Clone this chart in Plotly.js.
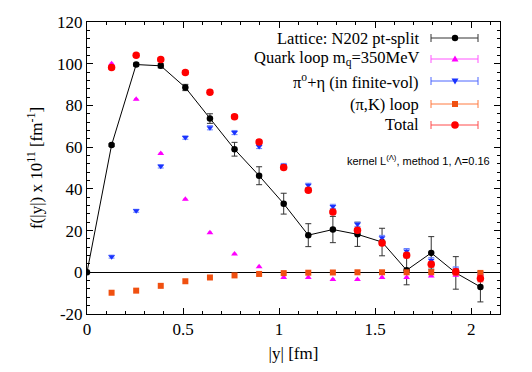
<!DOCTYPE html>
<html>
<head>
<meta charset="utf-8">
<script src="https://cdn.plot.ly/plotly-3.0.1.min.js"></script>
<style>
  html, body { margin: 0; padding: 0; background: #fff; }
  #plot { width: 532px; height: 372px; }
</style>
</head>
<body>
<div id="plot"></div>
<script>
// |y| in fm, steps of 2a for N202
const yAbs = [0, 0.128, 0.256, 0.384, 0.512, 0.64, 0.768, 0.896, 1.024, 1.152, 1.28, 1.408, 1.536, 1.664, 1.792, 1.92, 2.048];

const lattice = [0, 61, 99.6, 99, 88.6, 73.7, 59, 46.3, 32.9, 17.8, 20.5, 18.2, 14.5, 1, 9.3, -0.3, -7];
const latticeErr = [0, 0.6, 0.7, 1, 1.5, 2.3, 3.3, 4.3, 5, 5.5, 6.3, 5.8, 6.6, 7, 7.8, 7.8, 7.2];

const quarkX = yAbs.slice(1);
const quark = [100, 83, 57, 35, 19, 8.8, 2.6, -2.5, -2.5, -3.4, -3.4, -2.5, -2.5, -1.8, -1.4, -1];

const pionX = yAbs.slice(1);
const pionEta = [7.5, 29.5, 50.8, 64.6, 69.3, 67, 60.3, 51.2, 41.7, 31.6, 23, 16.5, 10.2, 5.8, 1.4, -1.4];
const pionEtaErr = [0.7, 0.7, 0.8, 0.8, 1, 1, 1, 1, 1, 1, 1, 1.2, 1.2, 1.2, 1.2, 1.2];

const kaonX = yAbs.slice(1);
const piK = [-9.8, -8.8, -6.5, -4.3, -2.5, -1.5, -0.8, -0.4, -0.2, -0.1, 0, 0, 0, 0, 0, -0.3];

const totalX = yAbs.slice(1);
const total = [98.2, 104, 102, 95.8, 86.3, 74.6, 62.5, 50.2, 39.3, 28.9, 20.1, 14, 8.2, 3.8, 0.2, -3];
const totalErr = [0.8, 0.8, 0.8, 0.9, 1, 1, 1, 1, 1, 1, 1.1, 1.2, 1.3, 1.4, 1.5, 1.6];

const legendNames = [
  "Lattice: N202 pt-split",
  "Quark loop m<sub>q</sub>=350MeV",
  "π<sup>o</sup>+η (in finite-vol)",
  "(π,K) loop",
  "Total"
];

const W = 532, H = 372;
const M = { l: 87, r: 32, t: 22, b: 58 };
const PW = W - M.l - M.r, PH = H - M.t - M.b;
const px = x => (x - M.l) / PW;
const py = y => 1 - (y - M.t) / PH;

const serif = "Liberation Serif";

const traces = [
  {
    x: yAbs, y: lattice, type: "scatter", mode: "lines+markers",
    line: { color: "#000", width: 1 },
    marker: { color: "#000", size: 6.5, symbol: "circle" },
    error_y: { type: "data", array: latticeErr, visible: true, color: "#333", thickness: 1, width: 3 }
  },
  {
    x: quarkX, y: quark, type: "scatter", mode: "markers",
    marker: { color: "#ff00ff", size: 6, symbol: "triangle-up" },
    error_y: { type: "constant", value: 0.3, visible: true, color: "#ff66ff", thickness: 1, width: 2 }
  },
  {
    x: pionX, y: pionEta, type: "scatter", mode: "markers",
    marker: { color: "#1a33ff", size: 6, symbol: "triangle-down" },
    error_y: { type: "data", array: pionEtaErr, visible: true, color: "#6680ff", thickness: 1, width: 3 }
  },
  {
    x: kaonX, y: piK, type: "scatter", mode: "markers",
    marker: { color: "#f05010", size: 6, symbol: "square" },
    error_y: { type: "constant", value: 0.3, visible: true, color: "#ff8050", thickness: 1, width: 2 }
  },
  {
    x: totalX, y: total, type: "scatter", mode: "markers",
    marker: { color: "#ff0000", size: 7.5, symbol: "circle" },
    error_y: { type: "data", array: totalErr, visible: true, color: "#ff5050", thickness: 1, width: 3 }
  }
];

// hand-made legend: text right-aligned, sample on the right
const rowsY = [38, 59, 81, 104, 125];
const sampleColors = ["#333", "#ff55ff", "#4d66ff", "#ff7a40", "#ff4d4d"];
const markerColors = ["#000", "#ff00ff", "#1a33ff", "#f05010", "#ff0000"];
const annotations = [];
const shapes = [];
legendNames.forEach((name, i) => {
  const yy = py(rowsY[i]);
  annotations.push({
    xref: "paper", yref: "paper", x: px(421), y: yy,
    xanchor: "right", yanchor: "middle", showarrow: false,
    text: name, font: { family: serif, size: 16.5, color: "#000" }
  });
  shapes.push({ type: "line", xref: "paper", yref: "paper", x0: px(431), x1: px(478), y0: yy, y1: yy, line: { color: sampleColors[i], width: 1 } });
  [431, 478].forEach(cx => {
    shapes.push({
      type: "line", xref: "paper", yref: "paper", xsizemode: "pixel", ysizemode: "pixel",
      xanchor: px(cx), yanchor: yy, x0: 0, x1: 0, y0: -4, y1: 4,
      line: { color: sampleColors[i], width: 1 }
    });
  });
  const base = { xref: "paper", yref: "paper", xsizemode: "pixel", ysizemode: "pixel", xanchor: px(455), yanchor: yy, fillcolor: markerColors[i], line: { width: 0 } };
  if (i === 0 || i === 4) {
    const r = i === 0 ? 3.2 : 3.8;
    shapes.push(Object.assign({ type: "circle", x0: -r, x1: r, y0: -r, y1: r }, base));
  } else if (i === 1) {
    shapes.push(Object.assign({ type: "path", path: "M -3.5 -2.5 L 3.5 -2.5 L 0 3.5 Z" }, base));
  } else if (i === 2) {
    shapes.push(Object.assign({ type: "path", path: "M -3.5 2.5 L 3.5 2.5 L 0 -3.5 Z" }, base));
  } else {
    shapes.push(Object.assign({ type: "rect", x0: -3, x1: 3, y0: -3, y1: 3 }, base));
  }
});

annotations.push({
  xref: "paper", yref: "paper", x: px(492), y: py(160),
  xanchor: "right", yanchor: "middle", showarrow: false,
  text: "kernel L<sup>(Λ)</sup>, method 1, Λ=0.16",
  font: { family: "Liberation Sans", size: 11, color: "#000" }
});

const yTicks = [-20, 0, 20, 40, 60, 80, 100, 120];

const layout = {
  width: W, height: H,
  margin: M,
  showlegend: false,
  paper_bgcolor: "#fff",
  plot_bgcolor: "#fff",
  font: { family: serif, size: 17, color: "#000" },
  xaxis: {
    range: [0, 2.15],
    tickvals: [0, 0.5, 1, 1.5, 2],
    ticktext: ["0", "0.5", "1", "1.5", "2"],
    ticks: "inside", ticklen: 6, tickcolor: "#000",
    minor: { dtick: 0.1, ticks: "inside", ticklen: 3, tickcolor: "#000" },
    showline: true, linecolor: "#000", linewidth: 1, mirror: "ticks",
    showgrid: false, zeroline: false,
    title: { text: "|y| [fm]", font: { family: serif, size: 17 }, standoff: 8 },
    tickfont: { family: serif, size: 17 }
  },
  yaxis: {
    range: [-20, 120],
    tickvals: yTicks,
    ticktext: yTicks.map(String),
    ticks: "inside", ticklen: 6, tickcolor: "#000",
    minor: { dtick: 4, ticks: "inside", ticklen: 3, tickcolor: "#000" },
    showline: true, linecolor: "#000", linewidth: 1, mirror: "ticks",
    showgrid: false,
    zeroline: true, zerolinecolor: "#000", zerolinewidth: 1,
    title: { text: "f(|y|) x 10<sup>11</sup> [fm<sup>-1</sup>]", font: { family: serif, size: 17 }, standoff: 10 },
    tickfont: { family: serif, size: 17 }
  },
  annotations: annotations,
  shapes: shapes
};

Plotly.newPlot("plot", traces, layout, { displayModeBar: false, staticPlot: true });
</script>
</body>
</html>
